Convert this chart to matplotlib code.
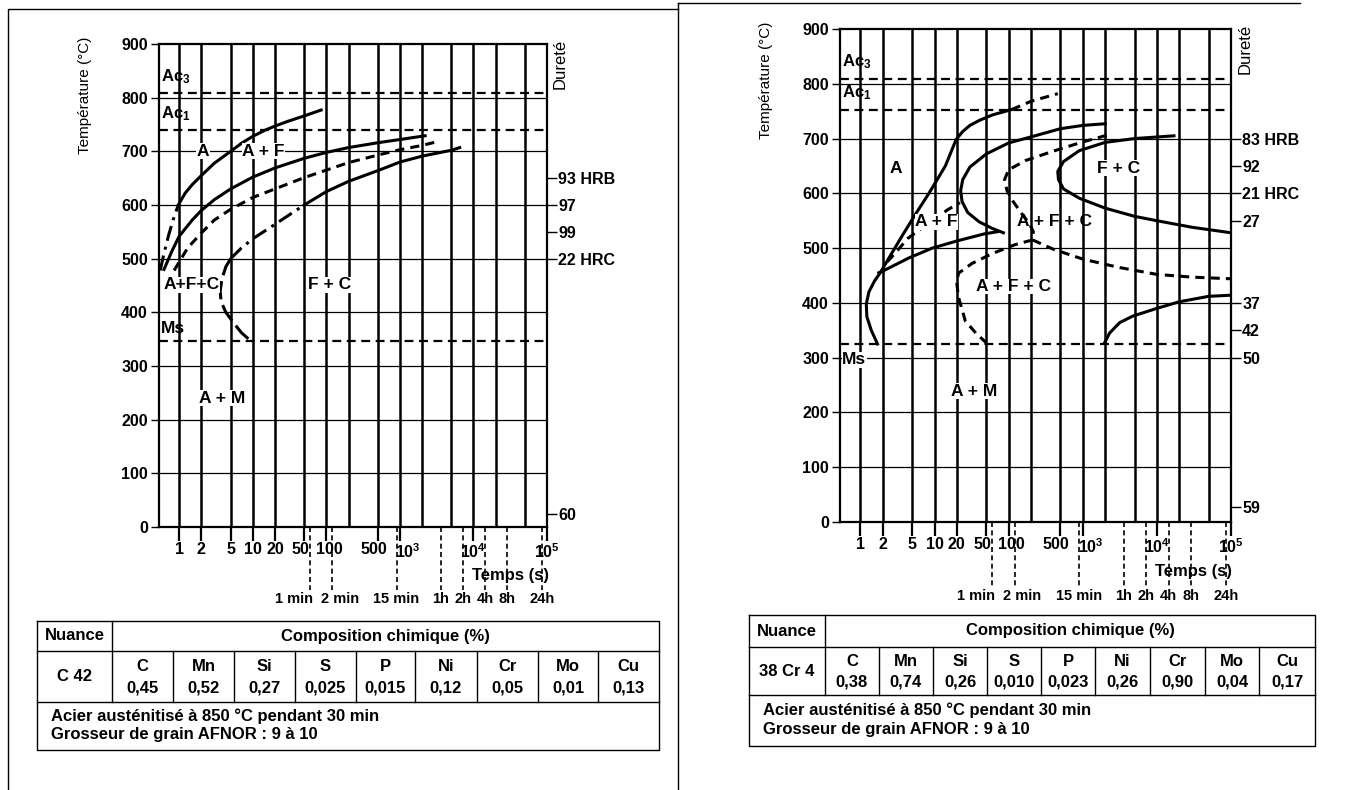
import matplotlib.pyplot as plt
from matplotlib.lines import Line2D
from matplotlib.ticker import NullLocator
from matplotlib.transforms import ScaledTranslation

plt.rcParams['font.family'] = ['Liberation Sans', 'DejaVu Sans']
plt.rcParams['mathtext.default'] = 'regular'

W, H = 1360, 790

# ---------------- data ----------------
temp_ticks = [0, 100, 200, 300, 400, 500, 600, 700, 800, 900]
time_ticks = [1, 2, 5, 10, 20, 50, 100, 500, 1e3, 1e4, 1e5]
time_labels = ['1', '2', '5', '10', '20', '50', '100', '500', '$10^3$', '$10^4$', '$10^5$']
grid_times = [1, 2, 5, 10, 20, 50, 100, 200, 500, 1e3, 2e3, 5e3, 1e4, 2e4, 5e4, 1e5]
clock_times = [60, 120, 900, 3600, 7200, 14400, 28800, 86400]
clock_labels = ['1 min', '2 min', '15 min', '1h', '2h', '4h', '8h', '24h']
elements = ['C', 'Mn', 'Si', 'S', 'P', 'Ni', 'Cr', 'Mo', 'Cu']

# C 42
c42_values = ['0,45', '0,52', '0,27', '0,025', '0,015', '0,12', '0,05', '0,01', '0,13']
c42_ac3, c42_ac1, c42_ms = 808, 740, 346
c42_hard_T = [650, 600, 550, 500, 25]
c42_hard_lbl = ['93 HRB', '97', '99', '22 HRC', '60']
c42_a_dd_t = [0.55, 0.62, 0.72, 0.85, 0.97]
c42_a_dd_T = [478, 510, 545, 578, 600]
c42_a_t = [0.97, 1.2, 1.5, 2, 3, 5, 7, 10, 15, 20, 30, 50, 85]
c42_a_T = [600, 622, 638, 655, 678, 700, 715, 728, 740, 747, 756, 766, 777]
c42_b_t = [0.62, 0.8, 1, 1.5, 2, 3, 5, 10, 20, 50, 100, 200, 500, 1000, 2200]
c42_b_T = [480, 515, 542, 572, 590, 610, 630, 652, 669, 687, 698, 707, 716, 722, 729]
c42_c_t = [0.85, 1.3, 2, 3, 5, 10, 20, 50, 100, 200, 500, 1000, 2000, 3000]
c42_c_T = [478, 520, 548, 572, 592, 614, 630, 651, 665, 679, 693, 703, 711, 717]
c42_d_dd_t = [5, 7, 10, 20, 35, 50]
c42_d_dd_T = [500, 520, 537, 564, 586, 600]
c42_d_t = [50, 100, 200, 500, 1000, 2000, 5000, 6500]
c42_d_T = [600, 625, 644, 664, 680, 691, 702, 707]
c42_nose_t = [5, 4.3, 3.8, 3.6, 3.7, 4.3, 5.5, 7, 9.5]
c42_nose_T = [500, 485, 462, 440, 420, 400, 380, 362, 346]

# 38 Cr 4
cr4_values = ['0,38', '0,74', '0,26', '0,010', '0,023', '0,26', '0,90', '0,04', '0,17']
cr4_ac3, cr4_ac1, cr4_ms = 808, 753, 325
cr4_hard_T = [700, 650, 600, 550, 400, 350, 300, 27]
cr4_hard_lbl = ['83 HRB', '92', '21 HRC', '27', '37', '42', '50', '59']
cr4_a_t = [1.7, 1.4, 1.22, 1.2, 1.3, 1.55, 1.85, 2.5, 3.6, 5.6, 8.4, 14, 19.5, 24, 30, 40, 60, 110]
cr4_a_T = [325, 350, 375, 398, 420, 440, 455, 485, 521, 563, 600, 650, 698, 713, 724, 733, 743, 753]
cr4_a_dash_t = [110, 200, 460]
cr4_a_dash_T = [753, 768, 782]
cr4_c1_t = [2000, 1000, 500, 200, 100, 50, 30, 24, 22.5, 23.5, 28, 40, 60, 85]
cr4_c1_T = [727, 724, 718, 703, 692, 672, 648, 625, 605, 585, 565, 548, 536, 528]
cr4_low_t = [1.77, 2, 4.5, 9.3, 20, 47, 71]
cr4_low_T = [455, 458, 482, 500, 513, 526, 530]
cr4_d1_t = [2.3, 3, 4.3, 6, 9, 15, 22]
cr4_d1_T = [475, 492, 517, 532, 548, 570, 583]
cr4_d2_t = [2100, 900, 400, 170, 100, 88, 95, 115, 150, 190, 215, 210]
cr4_d2_T = [706, 692, 677, 660, 643, 625, 605, 585, 563, 545, 530, 515]
cr4_tail_t = [210, 400, 1000, 3000, 1e4, 3e4, 1e5]
cr4_tail_T = [515, 498, 480, 465, 452, 447, 444]
cr4_d3_t = [210, 120, 60, 32, 21, 20, 21, 26, 36, 50]
cr4_d3_T = [515, 506, 490, 472, 454, 435, 411, 367, 345, 327]
cr4_fc_t = [17000, 5000, 2000, 900, 550, 460, 470, 550, 900, 2000, 5000, 1e4, 3e4, 1e5]
cr4_fc_T = [705, 700, 693, 678, 658, 640, 625, 608, 591, 573, 558, 550, 538, 528]
cr4_b_t = [1970, 2300, 3150, 4750, 1e4, 2e4, 5e4, 1e5]
cr4_b_T = [327, 345, 364, 376, 390, 402, 412, 414]

FS = 11.5     # tick labels
FL = 12.5     # region labels
FT = 12       # table text
fig = plt.figure(figsize=(W / 100, H / 100), dpi=100)


def rect(x0, x1, ytop, ybot):
    return [x0 / W, 1 - ybot / H, (x1 - x0) / W, (ybot - ytop) / H]


def fline(xs, ys, lw=1.0, **kw):
    fig.add_artist(Line2D([x / W for x in xs], [1 - y / H for y in ys],
                          transform=fig.transFigure, color='k', lw=lw, **kw))


def ftext(x, y, s, **kw):
    fig.text(x / W, 1 - y / H, s, fontsize=FT, fontweight='bold', **kw)


def shift(lb, dx):
    lb.set_transform(lb.get_transform() + ScaledTranslation(dx / 72, 0, fig.dpi_scale_trans))


def panel(r, ac3, ac1, ms, hard_T, hard_lbl):
    ax = fig.add_axes(r)
    ax.set_xscale('log')
    ax.set_xlim(0.53, 1e5)
    ax.set_ylim(0, 900)
    for t in grid_times:
        ax.axvline(t, color='k', lw=1.8, zorder=1)
    for T in temp_ticks[1:-1]:
        ax.axhline(T, color='k', lw=0.9, zorder=1)
    for T in (ac3, ac1, ms):
        ax.axhline(T, color='k', lw=1.6, ls=(0, (4, 2.5)), zorder=2)
    ax.set_xticks(time_ticks, time_labels)
    ax.xaxis.set_minor_locator(NullLocator())
    ax.set_yticks(temp_ticks)
    ax.tick_params(axis='x', length=10, width=1.6, pad=1, labelsize=FS)
    ax.tick_params(axis='y', length=6, width=1, pad=2, labelsize=FS)
    for lb in ax.get_xticklabels() + ax.get_yticklabels():
        lb.set_fontweight('bold')
    xl = ax.get_xticklabels()
    shift(xl[5], -3)
    shift(xl[6], 2)
    shift(xl[7], -3)
    shift(xl[8], 6)
    for s in ax.spines.values():
        s.set_linewidth(1.6)
    tw = ax.twinx()
    tw.set_ylim(0, 900)
    tw.set_yticks(hard_T, hard_lbl)
    tw.tick_params(length=7, width=1, pad=1, labelsize=FS)
    for lb in tw.get_yticklabels():
        lb.set_fontweight('bold')
    for s in tw.spines.values():
        s.set_visible(False)
    tr = ax.get_xaxis_transform()
    offs = {'1 min': (2, 'right'), '2 min': (-8, 'left')}
    for t, lab in zip(clock_times, clock_labels):
        ax.plot([t, t], [0, -0.13], transform=tr, clip_on=False, color='k',
                lw=1.2, ls=(0, (3, 2)))
        dx, ha = offs.get(lab, (0, 'center'))
        ax.annotate(lab, xy=(t, -0.15), xycoords=tr, xytext=(dx, 0),
                    textcoords='offset points', ha=ha, va='center',
                    fontsize=10.5, fontweight='bold')
    ax.text(10 ** 4.5, -0.1, 'Temps (s)', transform=tr, ha='center',
            va='center', fontsize=FS + 0.5, fontweight='bold')
    ax.text(-0.19, 1.015, 'Température (°C)', transform=ax.transAxes,
            rotation=90, ha='center', va='top', fontsize=11)
    ax.text(1.035, 1.01, 'Dureté', transform=ax.transAxes, rotation=90,
            ha='center', va='top', fontsize=12)
    ax.text(0.57, ac3 + 32, '$Ac_3$', fontsize=12, fontweight='bold', va='center')
    ax.text(0.57, ac1 + 30, '$Ac_1$', fontsize=12, fontweight='bold', va='center')
    return ax


def lbl(ax, t, T, s, bg=True):
    box = dict(fc='white', ec='none', pad=0.2) if bg else None
    ax.text(t, T, s, ha='center', va='center', fontsize=FL, fontweight='bold',
            zorder=5, bbox=box)


sol = dict(color='k', lw=2.2, zorder=4)
dsh = dict(color='k', lw=2.2, ls=(0, (3, 2)), zorder=4)
dd = dict(color='k', lw=2.2, ls=(0, (5, 2, 1, 2)), zorder=4)

# ---------- left panel ----------
axl = panel(rect(159, 547, 44, 527), c42_ac3, c42_ac1, c42_ms, c42_hard_T, c42_hard_lbl)
axl.plot(c42_a_dd_t, c42_a_dd_T, **dd)
axl.plot(c42_a_t, c42_a_T, **sol)
axl.plot(c42_b_t, c42_b_T, **sol)
axl.plot(c42_c_t, c42_c_T, **dsh)
axl.plot(c42_d_dd_t, c42_d_dd_T, **dd)
axl.plot(c42_d_t, c42_d_T, **sol)
axl.plot(c42_nose_t, c42_nose_T, color='k', lw=2.2, ls=(0, (6, 2)), zorder=4)
lbl(axl, 2.1, 700, 'A')
lbl(axl, 14, 700, 'A + F')
lbl(axl, 1.45, 451, 'A+F+C')
lbl(axl, 110, 451, 'F + C')
lbl(axl, 3.8, 240, 'A + M')
axl.text(0.57, c42_ms + 24, 'Ms', fontsize=FL, fontweight='bold', va='center')

# ---------- right panel ----------
axr = panel(rect(840, 1231, 29, 522), cr4_ac3, cr4_ac1, cr4_ms, cr4_hard_T, cr4_hard_lbl)
axr.plot(cr4_a_t, cr4_a_T, **sol)
axr.plot(cr4_a_dash_t, cr4_a_dash_T, **dsh)
axr.plot(cr4_c1_t, cr4_c1_T, **sol)
axr.plot(cr4_low_t, cr4_low_T, **sol)
axr.plot(cr4_d1_t, cr4_d1_T, **dsh)
axr.plot(cr4_d2_t, cr4_d2_T, **dsh)
axr.plot(cr4_tail_t, cr4_tail_T, **dsh)
axr.plot(cr4_d3_t, cr4_d3_T, **dsh)
axr.plot(cr4_fc_t, cr4_fc_T, **sol)
axr.plot(cr4_b_t, cr4_b_T, **sol)
lbl(axr, 3, 646, 'A')
lbl(axr, 10.6, 548, 'A + F')
lbl(axr, 420, 548, 'A + F + C', bg=False)
lbl(axr, 116, 430, 'A + F + C')
lbl(axr, 3000, 646, 'F + C')
lbl(axr, 34, 239, 'A + M')
axr.text(0.57, 296, 'Ms', fontsize=FL, fontweight='bold', va='center',
         bbox=dict(fc='white', ec='none', pad=0.2))

# ---------- frames ----------
fline([8, 8, 678], [790, 9, 9])
fline([678, 678], [3, 790])
fline([678, 1300], [3, 3])


# ---------- tables ----------
def table(xe, ye, nuance, values):
    x0, x1 = xe[0], xe[-1]
    fline([x0, x1, x1, x0, x0], [ye[0], ye[0], ye[3], ye[3], ye[0]])
    fline([x0, x1], [ye[1], ye[1]])
    fline([x0, x1], [ye[2], ye[2]])
    fline([xe[1], xe[1]], [ye[0], ye[2]])
    for x in xe[2:-1]:
        fline([x, x], [ye[1], ye[2]])
    ftext((xe[0] + xe[1]) / 2, (ye[0] + ye[1]) / 2, 'Nuance', ha='center', va='center')
    ftext((xe[1] + xe[-1]) / 2, (ye[0] + ye[1]) / 2, 'Composition chimique (%)',
          ha='center', va='center')
    ftext((xe[0] + xe[1]) / 2, (ye[1] + ye[2]) / 2, nuance, ha='center', va='center')
    for i, (el, v) in enumerate(zip(elements, values)):
        xc = (xe[i + 1] + xe[i + 2]) / 2
        ftext(xc, ye[1] + 0.3 * (ye[2] - ye[1]), el, ha='center', va='center')
        ftext(xc, ye[1] + 0.72 * (ye[2] - ye[1]), v, ha='center', va='center')
    ftext(x0 + 14, ye[2] + 0.3 * (ye[3] - ye[2]),
          'Acier austénitisé à 850 °C pendant 30 min', va='center')
    ftext(x0 + 14, ye[2] + 0.68 * (ye[3] - ye[2]),
          'Grosseur de grain AFNOR : 9 à 10', va='center')


table([37, 112, 173, 234, 295, 356, 415, 477, 538, 598, 659], [621, 651, 702, 750],
      'C 42', c42_values)
table([749, 825, 879, 933, 987, 1041, 1095, 1150, 1205, 1259, 1315], [615, 647, 695, 746],
      '38 Cr 4', cr4_values)

fig.savefig('out.png', dpi=100, facecolor='white')
